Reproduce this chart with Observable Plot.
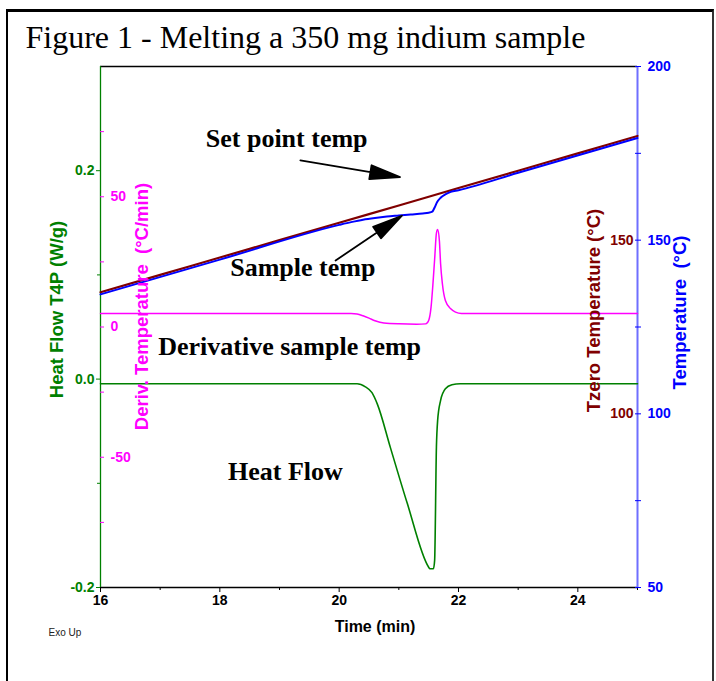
<!DOCTYPE html>
<html><head><meta charset="utf-8">
<script src="https://cdn.jsdelivr.net/npm/d3@7"></script>
<script src="https://cdn.jsdelivr.net/npm/@observablehq/plot@0.6"></script>
<style>
body{margin:0;background:#fff;}
#wrap{position:relative;width:716px;height:681px;overflow:hidden;background:#fff;}
#frame{position:absolute;left:6px;top:9px;width:708px;height:680px;border-left:2px solid #000;border-top:3px solid #000;border-right:2px solid #333;box-sizing:border-box;}
#chart{position:absolute;left:0;top:0;}
</style></head>
<body>
<div id="wrap"><div id="frame"></div><div id="chart"></div></div>
<script>
// ---- data ----
const setTime = [16, 17, 18, 19, 20, 21, 22, 23, 24, 25];
const setTemp = [135, 140, 145, 150, 155, 160, 165, 170, 175, 180];

const sampleTime = [16, 18, 20, 20.2, 20.4, 20.6, 20.8, 21.0, 21.2, 21.4, 21.5, 21.56, 21.6, 21.64, 21.7, 21.78, 21.87, 22.0, 23, 25];
const sampleTemp = [134.4, 144.4, 154.4, 155.2, 155.9, 156.4, 156.8, 157.1, 157.4, 157.7, 157.9, 158.2, 159.4, 160.9, 162.2, 163.2, 163.9, 164.4, 169.4, 179.4];

const derivTime = [16, 20.2, 20.3, 20.4, 20.5, 20.6, 20.75, 21.0, 21.3, 21.45, 21.5, 21.54, 21.57, 21.6, 21.63, 21.65, 21.68, 21.7, 21.73, 21.78, 21.87, 21.95, 22.05, 25];
const derivValue = [5.2, 5.2, 5.0, 4.3, 3.4, 2.4, 1.5, 1.2, 1.1, 1.2, 2.5, 7.6, 16, 26, 36, 37.4, 33, 24.3, 16.6, 10.2, 7.0, 5.7, 5.2, 5.2];

const flowTime = [16, 20.3, 20.44, 20.55, 20.64, 20.86, 21.14, 21.5, 21.52, 21.58, 21.6, 21.63, 21.65, 21.7, 21.78, 21.89, 22.03, 25];
const flowValue = [-0.0045, -0.0045, -0.0075, -0.013, -0.024, -0.066, -0.119, -0.1805, -0.182, -0.182, -0.174, -0.065, -0.040, -0.0205, -0.0093, -0.0055, -0.0045, -0.0045];

// ticks
const timeMajor = [16, 18, 20, 22, 24];
const timeMinor = [17, 19, 21, 23, 25];
const flowMajor = [-0.2, 0, 0.2];
const flowMinor = [-0.1, 0.1];
const derivTicks = [-75, -50, -25, 0, 25, 50, 75];
const derivLabels = [-50, 0, 50];
const tempTicks = [50, 75, 100, 125, 150, 175, 200];
const tempLabels = [50, 100, 150, 200];
const tzeroLabels = [100, 150];

// annotations
const noteText = ["Set point temp", "Sample temp", "Derivative sample temp", "Heat Flow"];
const noteTime = [19.12, 19.39, 19.17, 19.10];
const noteFlow = [0.2232, 0.0985, 0.0236, -0.0973];
const arrowTime = [19.35, 19.94];
const arrowTemp = [172.95, 144.15];
const arrowAngle = [99.5, 56];
const arrowLength = [101, 80];

// ---- scales ----
const green = "#008000", magenta = "#ff00ff", brown = "#800000", blue = "#0000ff";
const flowDomain = [-0.2, 0.3];
const tempToFlow = d3.scaleLinear([50, 200], flowDomain);
const derivToFlow = d3.scaleLinear([-100, 100], flowDomain);

const setData = setTime.map((t, i) => ({t, v: setTemp[i]}));
const sampleData = sampleTime.map((t, i) => ({t, v: sampleTemp[i]}));
const derivData = derivTime.map((t, i) => ({t, v: derivValue[i]}));
const flowData = flowTime.map((t, i) => ({t, v: flowValue[i]}));
const notes = noteText.map((s, i) => ({s, t: noteTime[i], v: noteFlow[i]}));
const arrows = arrowTime.map((t, i) => ({t, v: arrowTemp[i], a: arrowAngle[i], l: arrowLength[i]}));

const headShape = {
  draw(ctx, l) {
    const h = 30, w = 7;
    ctx.moveTo(0, 0);
    ctx.lineTo(0, -(l - h));
    ctx.moveTo(0, -l);
    ctx.lineTo(-w, -(l - h));
    ctx.lineTo(w, -(l - h));
    ctx.closePath();
  }
};

const sans = "'Liberation Sans', Arial, sans-serif";
const serif = "'Liberation Serif', 'Times New Roman', serif";
const titleOpts = {text: d => d, rotate: -90, textAnchor: "middle", fontWeight: "bold", fontSize: 18.5};

const chart = Plot.plot({
  width: 716, height: 681,
  marginLeft: 100, marginRight: 79, marginTop: 66, marginBottom: 94,
  x: {domain: [16, 25]},
  y: {domain: flowDomain},
  style: {fontFamily: sans, background: "transparent", overflow: "visible"},
  marks: [
    Plot.ruleY([flowDomain[1]], {stroke: "black", strokeWidth: 1.3}),
    Plot.ruleY([flowDomain[0]], {stroke: "black", strokeWidth: 1.3}),
    Plot.ruleX([16], {stroke: green, strokeWidth: 1.3}),
    Plot.ruleX([25], {stroke: "#6f6fff", strokeWidth: 2}),

    Plot.line(setData, {x: "t", y: d => tempToFlow(d.v), stroke: brown, strokeWidth: 2.2, curve: "monotone-x"}),
    Plot.line(sampleData, {x: "t", y: d => tempToFlow(d.v), stroke: blue, strokeWidth: 2, curve: "monotone-x"}),
    Plot.line(derivData, {x: "t", y: d => derivToFlow(d.v), stroke: magenta, strokeWidth: 1.5, curve: "monotone-x"}),
    Plot.line(flowData, {x: "t", y: "v", stroke: green, strokeWidth: 1.6, curve: "monotone-x"}),

    // x axis
    Plot.axisX(timeMajor, {anchor: "bottom", tickSize: 5, tickPadding: 3, fontWeight: "bold", fontSize: 14, color: "black", label: null}),
    Plot.axisX(timeMinor, {anchor: "bottom", tickSize: 3, tickFormat: () => "", color: "black", label: null}),
    // heat flow axis
    Plot.axisY(flowMajor, {anchor: "left", tickSize: 4, tickPadding: 2, tickFormat: d => d.toFixed(1), color: green, fontWeight: "bold", fontSize: 14, label: null}),
    Plot.axisY(flowMinor, {anchor: "left", tickSize: 3, tickFormat: () => "", color: green, label: null}),
    // derivative axis (inside)
    Plot.axisY(derivTicks.map(derivToFlow), {anchor: "left", tickSize: 4, dx: 4, tickFormat: () => "", color: magenta, label: null}),
    Plot.text(derivLabels, {y: d => derivToFlow(d), text: d => String(d), frameAnchor: "left", dx: 10, textAnchor: "start", fill: magenta, fontWeight: "bold", fontSize: 14}),
    // temperature axis (right)
    Plot.axisY(tempTicks.map(tempToFlow), {anchor: "right", tickSize: 6, dx: -3, tickFormat: () => "", color: blue, label: null}),
    Plot.text(tempLabels, {y: d => tempToFlow(d), text: d => String(d), frameAnchor: "right", dx: 10, textAnchor: "start", fill: blue, fontWeight: "bold", fontSize: 14}),
    Plot.text(tzeroLabels, {y: d => tempToFlow(d), text: d => String(d), frameAnchor: "right", dx: -4, textAnchor: "end", fill: brown, fontWeight: "bold", fontSize: 14}),

    // axis titles
    Plot.text(["Heat Flow T4P (W/g)"], {...titleOpts, frameAnchor: "left", dx: -43, dy: -17.5, fill: green}),
    Plot.text(["Deriv. Temperature\u00a0 (°C/min)"], {...titleOpts, frameAnchor: "left", dx: 42, dy: -20.5, fill: magenta}),
    Plot.text(["Tzero Temperature (°C)"], {...titleOpts, frameAnchor: "right", dx: -43, dy: -16.5, fill: brown}),
    Plot.text(["Temperature\u00a0 (°C)"], {...titleOpts, frameAnchor: "right", dx: 43, dy: -14.5, fill: blue}),
    Plot.text(["Time (min)"], {text: d => d, frameAnchor: "bottom", textAnchor: "middle", dx: 6, dy: 44, lineAnchor: "bottom", fill: "black", fontWeight: "bold", fontSize: 16}),
    Plot.text(["Exo Up"], {text: d => d, frameAnchor: "bottom-left", textAnchor: "start", dx: -52, dy: 48, lineAnchor: "bottom", fill: "#222", fontSize: 10, fontFamily: "'Liberation Sans Narrow', 'Liberation Sans', sans-serif"}),

    // title
    Plot.text(["Figure 1 - Melting a 350 mg indium sample"], {text: d => d, frameAnchor: "top-left", dx: -75, dy: -19, lineAnchor: "bottom", textAnchor: "start", fontFamily: serif, fontSize: 32, fill: "black"}),

    // annotations
    Plot.text(notes, {x: "t", y: "v", text: "s", lineAnchor: "bottom", fontFamily: serif, fontWeight: "bold", fontSize: 26, fill: "black"}),
    ...arrows.map(a => Plot.vector([a], {x: "t", y: d => tempToFlow(d.v), rotate: a.a, length: a.l, anchor: "start", shape: headShape, stroke: "black", fill: "black", strokeWidth: 1.8}))
  ]
});
document.getElementById("chart").appendChild(chart);
</script>
</body></html>
